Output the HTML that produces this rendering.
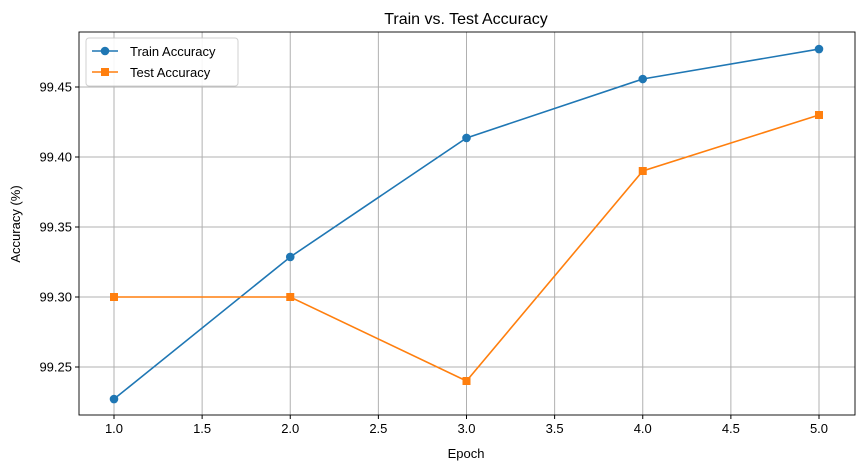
<!DOCTYPE html>
<html><head><meta charset="utf-8"><style>
body{margin:0;background:#fff;}
svg text{font-family:"Liberation Sans","DejaVu Sans",sans-serif;fill:#000;}
</style></head><body>
<svg id="chart" width="863" height="470" xmlns="http://www.w3.org/2000/svg">
<g id="grid"></g><g id="axes"></g><g id="series"></g>
<text x="466" y="24" font-size="16" text-anchor="middle">Train vs. Test Accuracy</text>
<text x="466" y="458" font-size="13" text-anchor="middle">Epoch</text>
<text x="20" y="224" font-size="13" text-anchor="middle" transform="rotate(-90 20 224)">Accuracy (%)</text>
<g>
<rect x="86" y="38" width="152" height="48" rx="3" fill="#fff" stroke="#ccc" opacity="0.9"/>
<line x1="92" y1="51" x2="118" y2="51" stroke="#1f77b4" stroke-width="1.6"/><circle cx="105" cy="51" r="4.3" fill="#1f77b4"/>
<text x="130" y="56" font-size="13">Train Accuracy</text>
<line x1="92" y1="72" x2="118" y2="72" stroke="#ff7f0e" stroke-width="1.6"/><rect x="101" y="68" width="8" height="8" fill="#ff7f0e"/>
<text x="130" y="77" font-size="13">Test Accuracy</text>
</g>
</svg>
<script>
const epochs=[1,2,3,4,5];
const trainAcc=[99.2271,99.3286,99.4136,99.4557,99.4771];
const testAcc=[99.30,99.30,99.24,99.39,99.43];
const xTicks=[1.0,1.5,2.0,2.5,3.0,3.5,4.0,4.5,5.0];
const yTicks=[99.25,99.30,99.35,99.40,99.45];
const L=79,R=855,T=32,B=415;
const sx=v=>114+(v-1)*176.25;
const sy=v=>87+(99.45-v)*1400;
const NS="http://www.w3.org/2000/svg";
function mk(p,t,a){const e=document.createElementNS(NS,t);for(const k in a)e.setAttribute(k,a[k]);p.appendChild(e);return e;}
const grid=document.getElementById('grid'),axes=document.getElementById('axes'),ser=document.getElementById('series');
xTicks.forEach(v=>{const x=sx(v);
const g=mk(grid,'line',{x1:x,x2:x,y1:T,y2:B,stroke:'#b0b0b0','stroke-width':1});


mk(axes,'line',{x1:x,x2:x,y1:B,y2:B+4,stroke:'#000'});
const t=mk(axes,'text',{x:x,y:B+18,'font-size':13,'text-anchor':'middle'});t.textContent=v.toFixed(1);

});
yTicks.forEach(v=>{const y=sy(v);
const g=mk(grid,'line',{x1:L,x2:R,y1:y,y2:y,stroke:'#b0b0b0','stroke-width':1});


mk(axes,'line',{x1:L-4,x2:L,y1:y,y2:y,stroke:'#000'});
const t=mk(axes,'text',{x:L-7,y:y+4.5,'font-size':13,'text-anchor':'end'});t.textContent=v.toFixed(2);

});
mk(axes,'rect',{x:L,y:T,width:R-L,height:B-T,fill:'none',stroke:'#000','stroke-width':0.9});
function series(vals,color,marker,name){
const pl=mk(ser,'polyline',{points:vals.map((v,i)=>sx(epochs[i])+','+sy(v)).join(' '),fill:'none',stroke:color,'stroke-width':1.6});


vals.forEach((v,i)=>{const x=sx(epochs[i]),y=sy(v);let m;
if(marker==='o')m=mk(ser,'circle',{cx:x,cy:y,r:4.3,fill:color});
else m=mk(ser,'rect',{x:x-4,y:y-4,width:8,height:8,fill:color});

});}
series(trainAcc,'#1f77b4','o','train');
series(testAcc,'#ff7f0e','s','test');
</script>
</body></html>
